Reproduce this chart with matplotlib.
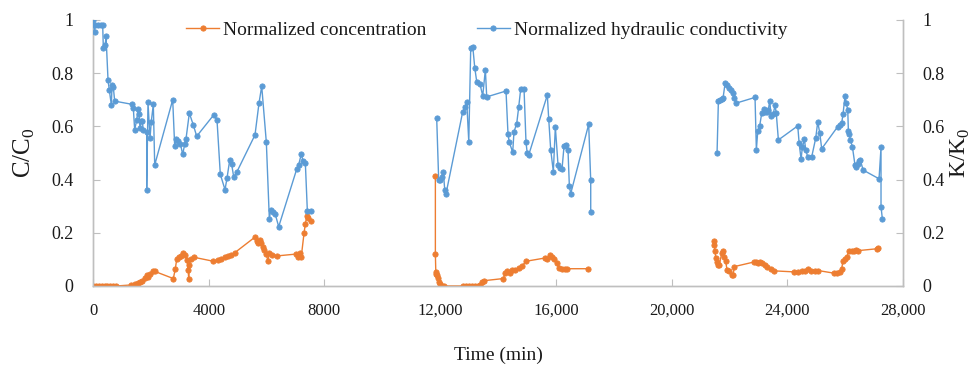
import matplotlib
matplotlib.use("Agg")
import matplotlib.pyplot as plt
from matplotlib.ticker import FixedLocator, FixedFormatter

# ---------------- data ----------------
# Test 1
t1_conc = [0, 100, 200, 300, 400, 500, 600, 700, 800,
           1325, 1450, 1556, 1620, 1700, 1786, 1850, 1900, 1970, 2085, 2133,
           2777, 2846, 2893, 2960, 3030, 3123, 3190, 3250, 3290, 3308, 3330, 3400, 3491,
           4160, 4320, 4437, 4550, 4667, 4780, 4898,
           5589, 5680, 5720, 5773, 5820, 5866, 5920, 5980, 6050, 6100, 6200, 6350,
           7018, 7100, 7157, 7200, 7294, 7340, 7390, 7430, 7525]
c1 = [0, 0, 0, 0, 0, 0, 0, 0, 0,
      0.004, 0.008, 0.01, 0.016, 0.02, 0.03, 0.04, 0.032, 0.045, 0.058, 0.055,
      0.028, 0.065, 0.10, 0.108, 0.112, 0.123, 0.115, 0.098, 0.06, 0.027, 0.08, 0.103, 0.108,
      0.093, 0.098, 0.103, 0.108, 0.113, 0.118, 0.125,
      0.183, 0.17, 0.16, 0.173, 0.16, 0.148, 0.135, 0.12, 0.095, 0.125, 0.118, 0.113,
      0.12, 0.11, 0.125, 0.11, 0.198, 0.233, 0.263, 0.255, 0.245]

t1_k = [0, 55, 80, 170, 290, 335, 357, 425, 450, 520, 565, 635, 657, 700, 750,
        1350, 1393, 1440, 1510, 1556, 1590, 1625, 1660, 1700, 1740, 1856, 1856, 1901, 1970, 2015, 2085, 2133,
        2755, 2824, 2870, 2950, 3020, 3100, 3170, 3215, 3330, 3468, 3585,
        4172, 4287, 4401, 4563, 4632, 4725, 4790, 4864, 4978,
        5600, 5739, 5832, 5992, 6096, 6140, 6220, 6300, 6419,
        7041, 7110, 7200, 7260, 7340, 7410, 7525]
k1 = [1.0, 0.956, 0.98, 0.98, 0.98, 0.98, 0.896, 0.906, 0.941, 0.773, 0.736, 0.680, 0.756, 0.75, 0.695,
      0.683, 0.670, 0.588, 0.623, 0.665, 0.648, 0.593, 0.620, 0.620, 0.588, 0.580, 0.362, 0.690, 0.555, 0.618, 0.683, 0.455,
      0.700, 0.525, 0.553, 0.545, 0.535, 0.495, 0.533, 0.553, 0.650, 0.605, 0.563,
      0.643, 0.623, 0.420, 0.362, 0.405, 0.473, 0.46, 0.410, 0.43,
      0.568, 0.688, 0.751, 0.540, 0.251, 0.286, 0.28, 0.27, 0.223,
      0.439, 0.456, 0.496, 0.47, 0.463, 0.281, 0.281]

# Test 2
t2_conc = [11835, 11835, 11850, 11870, 11890, 11910, 11950, 12010, 12065, 12120,
           12800, 12900, 13000, 13100, 13200, 13300, 13380, 13450, 13520,
           14185, 14254, 14320, 14400, 14485, 14600, 14716, 14830, 14968,
           15613, 15680, 15800, 15860, 15930, 16030, 16098, 16213, 16300, 16400, 17113]
c2 = [0.415, 0.12, 0.053, 0.045, 0.04, 0.03, 0.015, 0.008, 0.0, 0.0,
      0.0, 0.0, 0.0, 0.0, 0.0, 0.0, 0.003, 0.015, 0.02,
      0.028, 0.05, 0.055, 0.05, 0.06, 0.06, 0.068, 0.075, 0.093,
      0.105, 0.1, 0.115, 0.11, 0.1, 0.088, 0.068, 0.063, 0.065, 0.065, 0.065]

t2_k = [11880, 11950, 12000, 12060, 12110, 12160, 12203,
        12780, 12850, 12920, 12990, 13057, 13130, 13196, 13265, 13380, 13472, 13563, 13610,
        14277, 14346, 14392, 14508, 14553, 14646, 14716, 14785, 14900, 14968, 15010, 15060,
        15705, 15753, 15822, 15913, 15982, 16075, 16140, 16213, 16282, 16350, 16420, 16467, 16513,
        17135, 17205, 17205]
k2 = [0.633, 0.397, 0.40, 0.41, 0.43, 0.36, 0.347,
      0.655, 0.673, 0.69, 0.543, 0.894, 0.898, 0.821, 0.768, 0.758, 0.715, 0.813, 0.711,
      0.733, 0.570, 0.540, 0.503, 0.58, 0.61, 0.673, 0.741, 0.741, 0.54, 0.5, 0.492,
      0.718, 0.628, 0.512, 0.43, 0.598, 0.455, 0.445, 0.44, 0.525, 0.53, 0.51, 0.375, 0.347,
      0.608, 0.397, 0.28]

# Test 3
t3_conc = [21455, 21480, 21500, 21530, 21560, 21595, 21650, 21735, 21780, 21820, 21870, 21918, 21980, 22080, 22125, 22170,
           22840, 22910, 23000, 23070, 23140, 23220, 23300, 23420, 23530,
           24245, 24380, 24500, 24610, 24720, 24830, 24950, 25075,
           25627, 25720, 25810, 25880, 25927, 25990, 26060, 26136, 26230, 26300, 26366, 26450,
           27101, 27146]
c3 = [0.170, 0.155, 0.13, 0.105, 0.09, 0.08, 0.08, 0.123, 0.13, 0.11, 0.093, 0.06, 0.055, 0.043, 0.04, 0.073,
      0.09, 0.09, 0.085, 0.09, 0.085, 0.078, 0.07, 0.065, 0.057,
      0.053, 0.053, 0.055, 0.055, 0.063, 0.058, 0.058, 0.058,
      0.048, 0.048, 0.053, 0.065, 0.095, 0.1, 0.11, 0.133, 0.13, 0.13, 0.135, 0.133,
      0.14, 0.143]

t3_k = [21572, 21618, 21670, 21730, 21780, 21850, 21920, 21990, 22060, 22125, 22170, 22218,
        22885, 22931, 22980, 23046, 23115, 23180, 23230, 23300, 23345, 23392, 23440, 23510, 23577, 23620, 23692,
        24362, 24408, 24477, 24520, 24592, 24640, 24707, 24845, 24983, 25052, 25122, 25190,
        25743, 25810, 25880, 25927, 25996, 26040, 26090, 26112, 26150, 26180, 26250, 26340, 26386, 26430, 26480, 26525, 26620,
        27172, 27240, 27240, 27286]
k3 = [0.499, 0.694, 0.70, 0.703, 0.707, 0.762, 0.755, 0.745, 0.735, 0.727, 0.707, 0.687,
      0.709, 0.511, 0.584, 0.602, 0.649, 0.664, 0.655, 0.655, 0.662, 0.697, 0.64, 0.645, 0.679, 0.649, 0.549,
      0.602, 0.539, 0.476, 0.521, 0.551, 0.51, 0.486, 0.486, 0.556, 0.617, 0.576, 0.516,
      0.599, 0.605, 0.612, 0.647, 0.714, 0.687, 0.662, 0.582, 0.57, 0.549, 0.524, 0.455, 0.446, 0.46, 0.47, 0.474, 0.436,
      0.403, 0.521, 0.298, 0.253]

x_ticks = [0, 4000, 8000, 12000, 16000, 20000, 24000, 28000]
x_tick_labels = ["0", "4000", "8000", "12,000", "16,000", "20,000", "24,000", "28,000"]
y_ticks = [0, 0.2, 0.4, 0.6, 0.8, 1.0]
y_tick_labels = ["0", "0.2", "0.4", "0.6", "0.8", "1"]
legend_labels = ["Normalized concentration", "Normalized hydraulic conductivity"]

# ---------------- styling ----------------
FONT = ["Liberation Serif", "DejaVu Serif"]
plt.rcParams["font.family"] = FONT
ORANGE = "#ED7D31"
BLUE = "#5B9BD5"
SPINE = "#BFBFBF"
TXT = "#1A1A1A"

fig = plt.figure(figsize=(9.76, 3.72), dpi=100)
ax = fig.add_axes([93 / 976, 86 / 372, 810 / 976, 266 / 372])
ax2 = ax.twinx()

line_kw = dict(lw=1.0, marker="o", markersize=3.8, markeredgewidth=0.6)

conc_sets = [(t1_conc, c1), (t2_conc, c2), (t3_conc, c3)]
k_sets = [(t1_k, k1), (t2_k, k2), (t3_k, k3)]
for i, (t, c) in enumerate(conc_sets):
    ax.plot(t, c, color=ORANGE, mfc=ORANGE, mec=ORANGE, zorder=3,
            label=legend_labels[0] if i == 0 else None, **line_kw)
for i, (t, k) in enumerate(k_sets):
    ax2.plot(t, k, color=BLUE, mfc=BLUE, mec=BLUE, zorder=3,
             label=legend_labels[1] if i == 0 else None, **line_kw)

for a in (ax, ax2):
    a.set_xlim(0, 28000)
    a.set_ylim(0, 1)
    a.spines["top"].set_visible(False)
    for s in ("left", "right", "bottom"):
        a.spines[s].set_color(SPINE)
        a.spines[s].set_linewidth(1.0)
    a.yaxis.set_major_locator(FixedLocator(y_ticks))
    a.yaxis.set_major_formatter(FixedFormatter(y_tick_labels))
    a.tick_params(axis="y", direction="in", length=5, color=SPINE, labelsize=13,
                  labelcolor=TXT, pad=14)

ax.xaxis.set_major_locator(FixedLocator(x_ticks))
ax.xaxis.set_major_formatter(FixedFormatter(x_tick_labels))
ax.tick_params(axis="x", direction="in", length=5, color=SPINE, labelsize=12,
               labelcolor=TXT, pad=12)

ax.set_xlabel("Time (min)", fontsize=14, color=TXT, labelpad=20)
ax.set_ylabel("C/C$_\\mathregular{0}$", fontsize=18, color=TXT, labelpad=10)
ax2.set_ylabel("K/K$_\\mathregular{0}$", fontsize=17, color=TXT, labelpad=3)

h1, l1 = ax.get_legend_handles_labels()
h2, l2 = ax2.get_legend_handles_labels()
leg = ax2.legend(h1 + h2, l1 + l2, loc="center", bbox_to_anchor=(0.486, 0.962),
                 ncol=2, frameon=False, fontsize=14, handlelength=1.7,
                 handletextpad=0.2, columnspacing=2.6, borderaxespad=0)
for txt in leg.get_texts():
    txt.set_color(TXT)

fig.savefig("out.png", dpi=100)
